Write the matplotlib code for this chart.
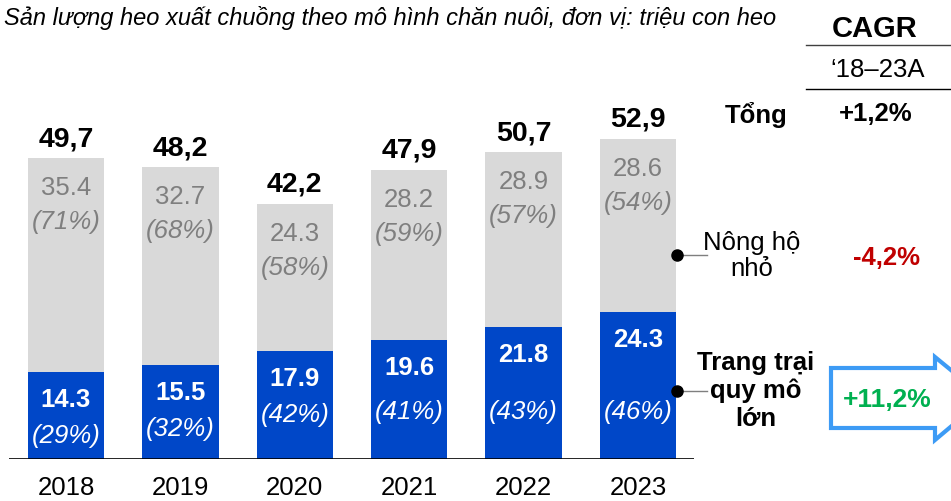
import numpy as np
import matplotlib
matplotlib.use("Agg")
import matplotlib.pyplot as plt
import matplotlib.patches as mpatches

plt.rcParams['font.family'] = ['Liberation Sans', 'DejaVu Sans']

years = ['2018', '2019', '2020', '2021', '2022', '2023']
large = [14.3, 15.5, 17.9, 19.6, 21.8, 24.3]
small = [35.4, 32.7, 24.3, 28.2, 28.9, 28.6]
large_pct = ['(29%)', '(32%)', '(42%)', '(41%)', '(43%)', '(46%)']
small_pct = ['(71%)', '(68%)', '(58%)', '(59%)', '(57%)', '(54%)']
totals = ['49,7', '48,2', '42,2', '47,9', '50,7', '52,9']

title = 'Sản lượng heo xuất chuồng theo mô hình chăn nuôi, đơn vị: triệu con heo'
cagr_head = 'CAGR'
cagr_period = '\u201818\u201323A'
cagr_total = '+1,2%'
cagr_small = '-4,2%'
cagr_large = '+11,2%'

BLUE = '#0047C8'
GRAY = '#D9D9D9'
GRAY_TXT = '#7F7F7F'

W, H = 951, 501
fig = plt.figure(figsize=(W / 100, H / 100), dpi=100)


def fx(x):
    return x / W


def fy(y):
    return 1 - y / H


# axes placed by pixel: baseline at y=459, spans x 9..694
base_px, top_px = 459, 100
ppu = 6.05  # pixels per million heads
ax = fig.add_axes([fx(9), fy(base_px), (694 - 9) / W, (base_px - top_px) / H])
step = 114.4
ax.set_xlim((9 - 66) / step, (694 - 66) / step)
ax.set_ylim(0, (base_px - top_px) / ppu)
ax.axis('off')
ax.axhline(0, color='black', lw=1.2, zorder=3)

x = np.arange(len(years))
large = np.array(large)
small = np.array(small)
bw = 76.5 / step
ax.bar(x, large, bw, color=BLUE, zorder=2)
ax.bar(x, small, bw, bottom=large, color=GRAY, zorder=2)

fs = 18.5
for i in range(len(years)):
    top = large[i] + small[i]
    ax.text(x[i], top + 19 / ppu, totals[i], ha='center', va='center',
            fontsize=20.5, fontweight='bold', color='black')
    ax.text(x[i], top - 30 / ppu, f'{small[i]:.1f}', ha='center', va='center',
            fontsize=fs, color=GRAY_TXT)
    ax.text(x[i], top - 64 / ppu, small_pct[i], ha='center', va='center',
            fontsize=fs, color=GRAY_TXT, style='italic')
    ax.text(x[i], large[i] - 28 / ppu, f'{large[i]:.1f}', ha='center', va='center',
            fontsize=fs, fontweight='bold', color='white')
    ax.text(x[i], min(large[i] - 64 / ppu, 7.8), large_pct[i], ha='center',
            va='center', fontsize=fs, color='white', style='italic')
    ax.text(x[i], -29 / ppu, years[i], ha='center', va='center',
            fontsize=fs, color='black', clip_on=False)

# title
fig.text(fx(4), fy(18), title, ha='left', va='center', fontsize=17, style='italic')

# CAGR header
fig.text(fx(875), fy(29), cagr_head, ha='center', va='center', fontsize=21,
         fontweight='bold')
fig.add_artist(plt.Line2D([fx(806), fx(951)], [fy(45), fy(45)], color='#404040', lw=1))
fig.text(fx(878), fy(70), cagr_period, ha='center', va='center', fontsize=18.5)
fig.add_artist(plt.Line2D([fx(806), fx(951)], [fy(89), fy(89)], color='black', lw=1))

fig.text(fx(756), fy(115), 'Tổng', ha='center', va='center', fontsize=fs,
         fontweight='bold')
fig.text(fx(876), fy(114), cagr_total, ha='center', va='center', fontsize=fs,
         fontweight='bold')

# series labels with leader dots
for yy in (255, 391):
    fig.add_artist(plt.Line2D([fx(677), fx(707)], [fy(yy), fy(yy)], color='#7F7F7F', lw=1))
    fig.add_artist(plt.Line2D([fx(677)], [fy(yy)], marker='o', ms=8, color='black'))

fig.text(fx(752), fy(256), 'Nông hộ\nnhỏ', ha='center', va='center', fontsize=fs,
         linespacing=1.1)
fig.text(fx(887), fy(258), cagr_small, ha='center', va='center', fontsize=fs,
         fontweight='bold', color='#C00000')

fig.text(fx(756), fy(391), 'Trang trại\nquy mô\nlớn', ha='center', va='center',
         fontsize=fs, fontweight='bold', linespacing=1.2)

# arrow box
arrow_pts = [(831, 368), (935, 368), (935, 357), (985, 398), (935, 440),
             (935, 428), (831, 428)]
arrow = mpatches.Polygon([(fx(a), fy(b)) for a, b in arrow_pts], closed=True,
                         transform=fig.transFigure, facecolor='white',
                         edgecolor='#3D9BF5', lw=3)
fig.add_artist(arrow)
fig.text(fx(887), fy(400), cagr_large, ha='center', va='center', fontsize=19,
         fontweight='bold', color='#00B050')

fig.savefig('out.png', dpi=100)
